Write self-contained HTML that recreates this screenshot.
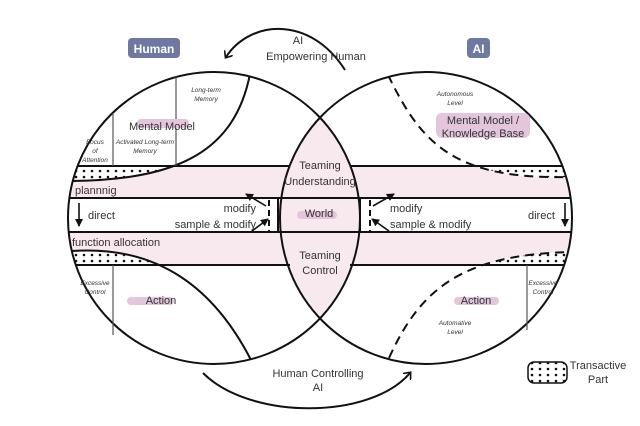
<!DOCTYPE html>
<html><head><style>
body{margin:0;background:#fff;}
svg text{font-family:"Liberation Sans",sans-serif;fill:#333;}
</style></head><body>
<svg width="640" height="421" viewBox="0 0 640 421" xmlns="http://www.w3.org/2000/svg">
<defs>
<clipPath id="L"><circle cx="214" cy="218" r="146"/></clipPath>
<clipPath id="R"><circle cx="426" cy="218" r="146"/></clipPath>
<clipPath id="U"><circle cx="214" cy="218" r="146"/><circle cx="426" cy="218" r="146"/></clipPath>
<clipPath id="d1"><rect x="60" y="166" width="116" height="16"/></clipPath>
<clipPath id="d2"><rect x="440" y="167" width="140" height="14"/></clipPath>
<clipPath id="d3"><rect x="60" y="245" width="120" height="20"/></clipPath>
<clipPath id="d4"><rect x="460" y="245" width="120" height="20"/></clipPath>
<pattern id="dots" width="8" height="6" patternUnits="userSpaceOnUse"><rect width="8" height="6" fill="#fff"/><circle cx="4" cy="3" r="1.3" fill="#111"/></pattern>
<marker id="ah" markerWidth="10" markerHeight="10" refX="5" refY="5" orient="auto" markerUnits="userSpaceOnUse"><path d="M0,0 L6,5 L0,10" fill="none" stroke="#111" stroke-width="1.6"/></marker>
<marker id="as" markerWidth="8" markerHeight="8" refX="7" refY="4" orient="auto" markerUnits="userSpaceOnUse"><path d="M0,0 L8,4 L0,8 Z" fill="#111"/></marker>
</defs>
<g clip-path="url(#L)"><circle cx="426" cy="218" r="146" fill="#f8e9ef"/></g>
<g clip-path="url(#U)">
<rect x="0" y="198" width="640" height="34" fill="#fff"/>
<rect x="0" y="166" width="640" height="32" fill="#f8e9ef"/>
<rect x="0" y="232" width="640" height="33" fill="#f8e9ef"/>
<rect x="278" y="198" width="82" height="34" fill="#f8e9ef"/>
</g>
<g clip-path="url(#L)">
<g clip-path="url(#d1)"><path d="M250,74 C235,150 180,180 72,181 L60,181 L60,60 L250,60 Z" fill="url(#dots)"/></g>
<g clip-path="url(#d3)"><path d="M72,251 C160,245 215,290 251,360 L251,370 L60,370 L60,251 Z" fill="url(#dots)"/></g>
</g>
<g clip-path="url(#R)">
<g clip-path="url(#d2)"><path d="M388,75 C420,140 450,180 570,177 L580,177 L580,60 L388,60 Z" fill="url(#dots)"/></g>
<g clip-path="url(#d4)"><path d="M389,358 C420,290 460,255 570,252 L580,252 L580,370 L389,370 Z" fill="url(#dots)"/></g>
</g>
<g clip-path="url(#U)" stroke="#111" stroke-width="2" fill="none">
<path d="M60,166 H290 M350,166 H580"/>
<path d="M60,198 H580 M60,232 H580"/>
<path d="M60,265 H290 M350,265 H580"/>
<path d="M278,198 V232 M360,198 V232"/>
</g>
<g fill="none" stroke="#111" stroke-width="2">
<g clip-path="url(#L)">
<path d="M250,74 C235,150 180,180 72,181"/>
<path d="M72,251 C160,245 215,290 251,360"/>
</g>
<g clip-path="url(#R)" stroke-dasharray="9,6">
<path d="M388,75 C420,140 450,180 570,177"/>
<path d="M389,358 C420,290 460,255 570,252"/>
</g>
<circle cx="214" cy="218" r="146"/>
<circle cx="426" cy="218" r="146"/>
</g>
<g stroke="#555" stroke-width="1.2">
<line x1="113" y1="113" x2="113" y2="166"/>
<line x1="176" y1="77" x2="176" y2="166"/>
<line x1="113" y1="265" x2="113" y2="335"/>
<line x1="527" y1="265" x2="527" y2="330"/>
</g>
<g stroke="#111" stroke-width="2" stroke-dasharray="6,4">
<line x1="269" y1="200" x2="269" y2="231"/>
<line x1="370" y1="200" x2="370" y2="231"/>
</g>
<g stroke="#111" stroke-width="1.6" fill="none">
<line x1="266" y1="206" x2="246" y2="194" marker-end="url(#as)"/>
<line x1="252" y1="231" x2="268" y2="219" marker-end="url(#as)"/>
<line x1="373" y1="206" x2="394" y2="194" marker-end="url(#as)"/>
<line x1="389" y1="231" x2="372" y2="219" marker-end="url(#as)"/>
<line x1="79" y1="203" x2="79" y2="226" marker-end="url(#as)"/>
<line x1="565" y1="203" x2="565" y2="226" marker-end="url(#as)"/>
<path d="M345,70 C310,15 250,20 226,57" stroke-width="2" marker-end="url(#ah)"/>
<path d="M203,373 C250,420 370,420 410,373" stroke-width="2" marker-end="url(#ah)"/>
</g>
<rect x="128" y="38" width="52" height="20" rx="4" fill="#6f78a0"/>
<text x="154" y="53" font-size="12" font-weight="bold" text-anchor="middle" style="fill:#fff">Human</text>
<rect x="467" y="38" width="23" height="20" rx="4" fill="#6f78a0"/>
<text x="478.5" y="53" font-size="12" font-weight="bold" text-anchor="middle" style="fill:#fff">AI</text>
<rect x="137" y="119" width="52" height="9" rx="4" fill="#e3c6dc"/>
<rect x="436" y="113" width="94" height="25" rx="6" fill="#e3c6dc"/>
<rect x="297" y="211" width="40" height="8" rx="4" fill="#e3c6dc"/>
<rect x="127" y="297" width="47" height="8" rx="4" fill="#e3c6dc"/>
<rect x="454" y="297" width="45" height="8" rx="4" fill="#e3c6dc"/>
<g font-size="11">
<text x="298" y="44" text-anchor="middle">AI</text>
<text x="316" y="60" text-anchor="middle">Empowering Human</text>
<text x="162" y="130" text-anchor="middle">Mental Model</text>
<text x="483" y="124" text-anchor="middle">Mental Model /</text>
<text x="483" y="137" text-anchor="middle">Knowledge Base</text>
<text x="320" y="169" text-anchor="middle">Teaming</text>
<text x="320" y="185" text-anchor="middle">Understanding</text>
<text x="75" y="194">plannnig</text>
<text x="88" y="219">direct</text>
<text x="528" y="219">direct</text>
<text x="256" y="212" text-anchor="end">modify</text>
<text x="256" y="228" text-anchor="end">sample &amp; modify</text>
<text x="390" y="212">modify</text>
<text x="390" y="228">sample &amp; modify</text>
<text x="319" y="217" text-anchor="middle">World</text>
<text x="72" y="246">function allocation</text>
<text x="320" y="259" text-anchor="middle">Teaming</text>
<text x="320" y="274" text-anchor="middle">Control</text>
<text x="161" y="304" text-anchor="middle">Action</text>
<text x="476" y="304" text-anchor="middle">Action</text>
<text x="318" y="377" text-anchor="middle">Human Controlling</text>
<text x="318" y="391" text-anchor="middle">AI</text>
<text x="598" y="369" text-anchor="middle">Transactive</text>
<text x="598" y="383" text-anchor="middle">Part</text>
</g>
<g font-size="6.5" font-style="italic" text-anchor="middle">
<text x="206" y="92">Long-term</text>
<text x="206" y="101">Memory</text>
<text x="95" y="144">Focus</text>
<text x="95" y="153">of</text>
<text x="95" y="162">Attention</text>
<text x="145" y="144">Activated Long-term</text>
<text x="145" y="153">Memory</text>
<text x="455" y="96">Autonomous</text>
<text x="455" y="105">Level</text>
<text x="95" y="285">Excessive</text>
<text x="95" y="294">Control</text>
<text x="543" y="285">Excessive</text>
<text x="543" y="294">Control</text>
<text x="455" y="325">Automative</text>
<text x="455" y="334">Level</text>
</g>
<rect x="528" y="362" width="39" height="21" rx="6" fill="url(#dots)" stroke="#111" stroke-width="1.5"/>
</svg>
</body></html>
